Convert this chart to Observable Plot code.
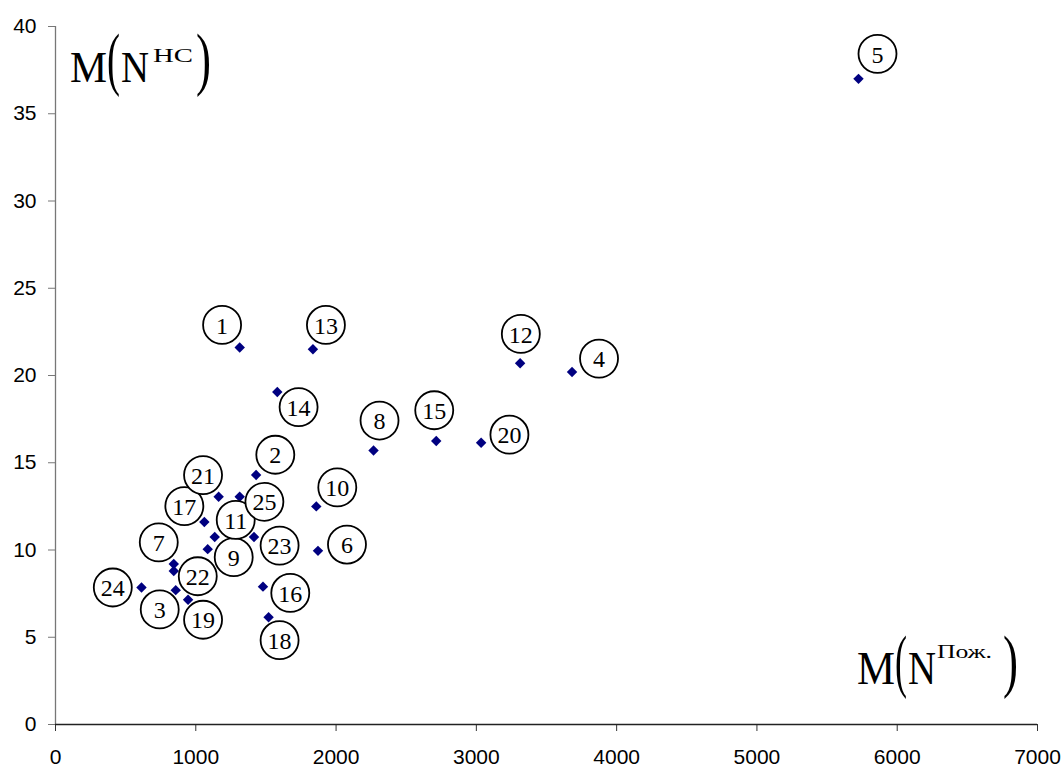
<!DOCTYPE html>
<html>
<head>
<meta charset="utf-8">
<script src="https://cdn.jsdelivr.net/npm/d3@7"></script>
<script src="https://cdn.jsdelivr.net/npm/@observablehq/plot@0.6"></script>
<style>
  html, body { margin: 0; padding: 0; background: #fff; }
  svg { display: block; }
</style>
</head>
<body>
<div id="chart"></div>
<script>
// ---- data ----
const ids = [1, 2, 3, 4, 5, 6, 7, 8, 9, 10, 11, 12, 13, 14, 15, 16, 17, 18, 19, 20, 21, 22, 23, 24, 25];
const fires = [1313, 1430, 857, 3682, 5724, 1871, 843, 2267, 1085, 1859, 1135, 3312, 1835, 1581, 2714, 1479, 1061, 1519, 945, 3034, 1163, 843, 1415, 613, 1313];
const accidents = [21.6, 14.3, 7.7, 20.2, 37.0, 9.95, 9.2, 15.7, 10.05, 12.5, 10.75, 20.7, 21.5, 19.05, 16.25, 7.9, 11.6, 6.15, 7.15, 16.15, 13.05, 8.8, 10.75, 7.85, 13.05];
const xTicks = [0, 1000, 2000, 3000, 4000, 5000, 6000, 7000];
const yTicks = [0, 5, 10, 15, 20, 25, 30, 35, 40];

// ---- layout: label-circle offsets (px) from each point ----
const labelOffset = [
  [-17.6, -22.7], [19.2, -20.2], [-16, 19.3], [27, -13.4], [19, -25],
  [29, -6.3], [-15, -21.6], [6, -30], [26, 8], [21, -19],
  [21, -17], [0.7, -29.4], [13, -24.4], [21.3, 15], [-2, -30.7],
  [27.3, 6.3], [-20, -16], [11, 23], [15, 20], [28.3, -8],
  [-15.6, -21.7], [24, 5.3], [25.6, 8.7], [-28.7, 0], [24.7, 5]
];

const points = ids.map((id, i) => ({id, x: fires[i], y: accidents[i], off: labelOffset[i]}));

const labelMarks = [];
for (const d of points) {
  labelMarks.push(Plot.dot([d], {x: "x", y: "y", dx: d.off[0], dy: d.off[1], r: 19, fill: "white", stroke: "black", strokeWidth: 1.8}));
  labelMarks.push(Plot.text([d], {x: "x", y: "y", dx: d.off[0], dy: d.off[1] + 1, text: d => String(d.id), fontSize: 24, fontFamily: "'Liberation Serif', 'Times New Roman', serif", fill: "black"}));
}

const chart = Plot.plot({
  width: 1064,
  height: 767,
  marginLeft: 55,
  marginRight: 27,
  marginTop: 26,
  marginBottom: 43,
  style: {fontFamily: "'Liberation Sans', Arial, sans-serif", fontSize: "21px", background: "white", color: "black"},
  x: {domain: [0, 7000], label: null},
  y: {domain: [0, 40], label: null},
  marks: [
    Plot.axisX({ticks: xTicks, tickSize: 7, tickPadding: 18, tickFormat: d => String(d), fontSize: 21, stroke: "#333", label: null}),
    Plot.axisY({ticks: yTicks, tickSize: 7, tickPadding: 12, tickFormat: d => String(d), fontSize: 21, stroke: "#777", label: null}),
    Plot.ruleX([0], {stroke: "#777", strokeWidth: 1.3}),
    Plot.ruleY([0], {stroke: "#222", strokeWidth: 1.3}),
    Plot.dot(points, {x: "x", y: "y", symbol: "diamond2", r: 4.7, fill: "#000080"}),
    ...labelMarks
  ]
});

document.getElementById("chart").appendChild(chart);

// ---- axis titles ----
const svg = d3.select(chart);
const serif = "'Liberation Serif', 'Times New Roman', serif";
function piece(g, txt, x, y, size, len) {
  const t = g.append("text").attr("x", x).attr("y", y)
    .attr("text-anchor", "start").attr("font-weight", "normal")
    .attr("font-family", serif).attr("font-size", size).attr("fill", "black").text(txt);
  if (len) t.attr("textLength", len).attr("lengthAdjust", "spacingAndGlyphs");
}
const gTop = svg.append("g").attr("text-anchor", "start");
piece(gTop, "M", 70, 82, 45, 37);
piece(gTop, "(", 107, 82, 70, 13);
piece(gTop, "N", 121, 82, 45, 28);
piece(gTop, "НС", 153, 62, 19.5, 40);
piece(gTop, ")", 196, 82, 70, 15);

const gBot = svg.append("g").attr("text-anchor", "start");
piece(gBot, "M", 857, 684, 46, 38);
piece(gBot, "(", 895, 684, 70, 12);
piece(gBot, "N", 908, 684, 46, 28);
piece(gBot, "Пож.", 937, 658, 19.5, 55);
piece(gBot, ")", 1003, 684, 70, 15);
</script>
</body>
</html>
